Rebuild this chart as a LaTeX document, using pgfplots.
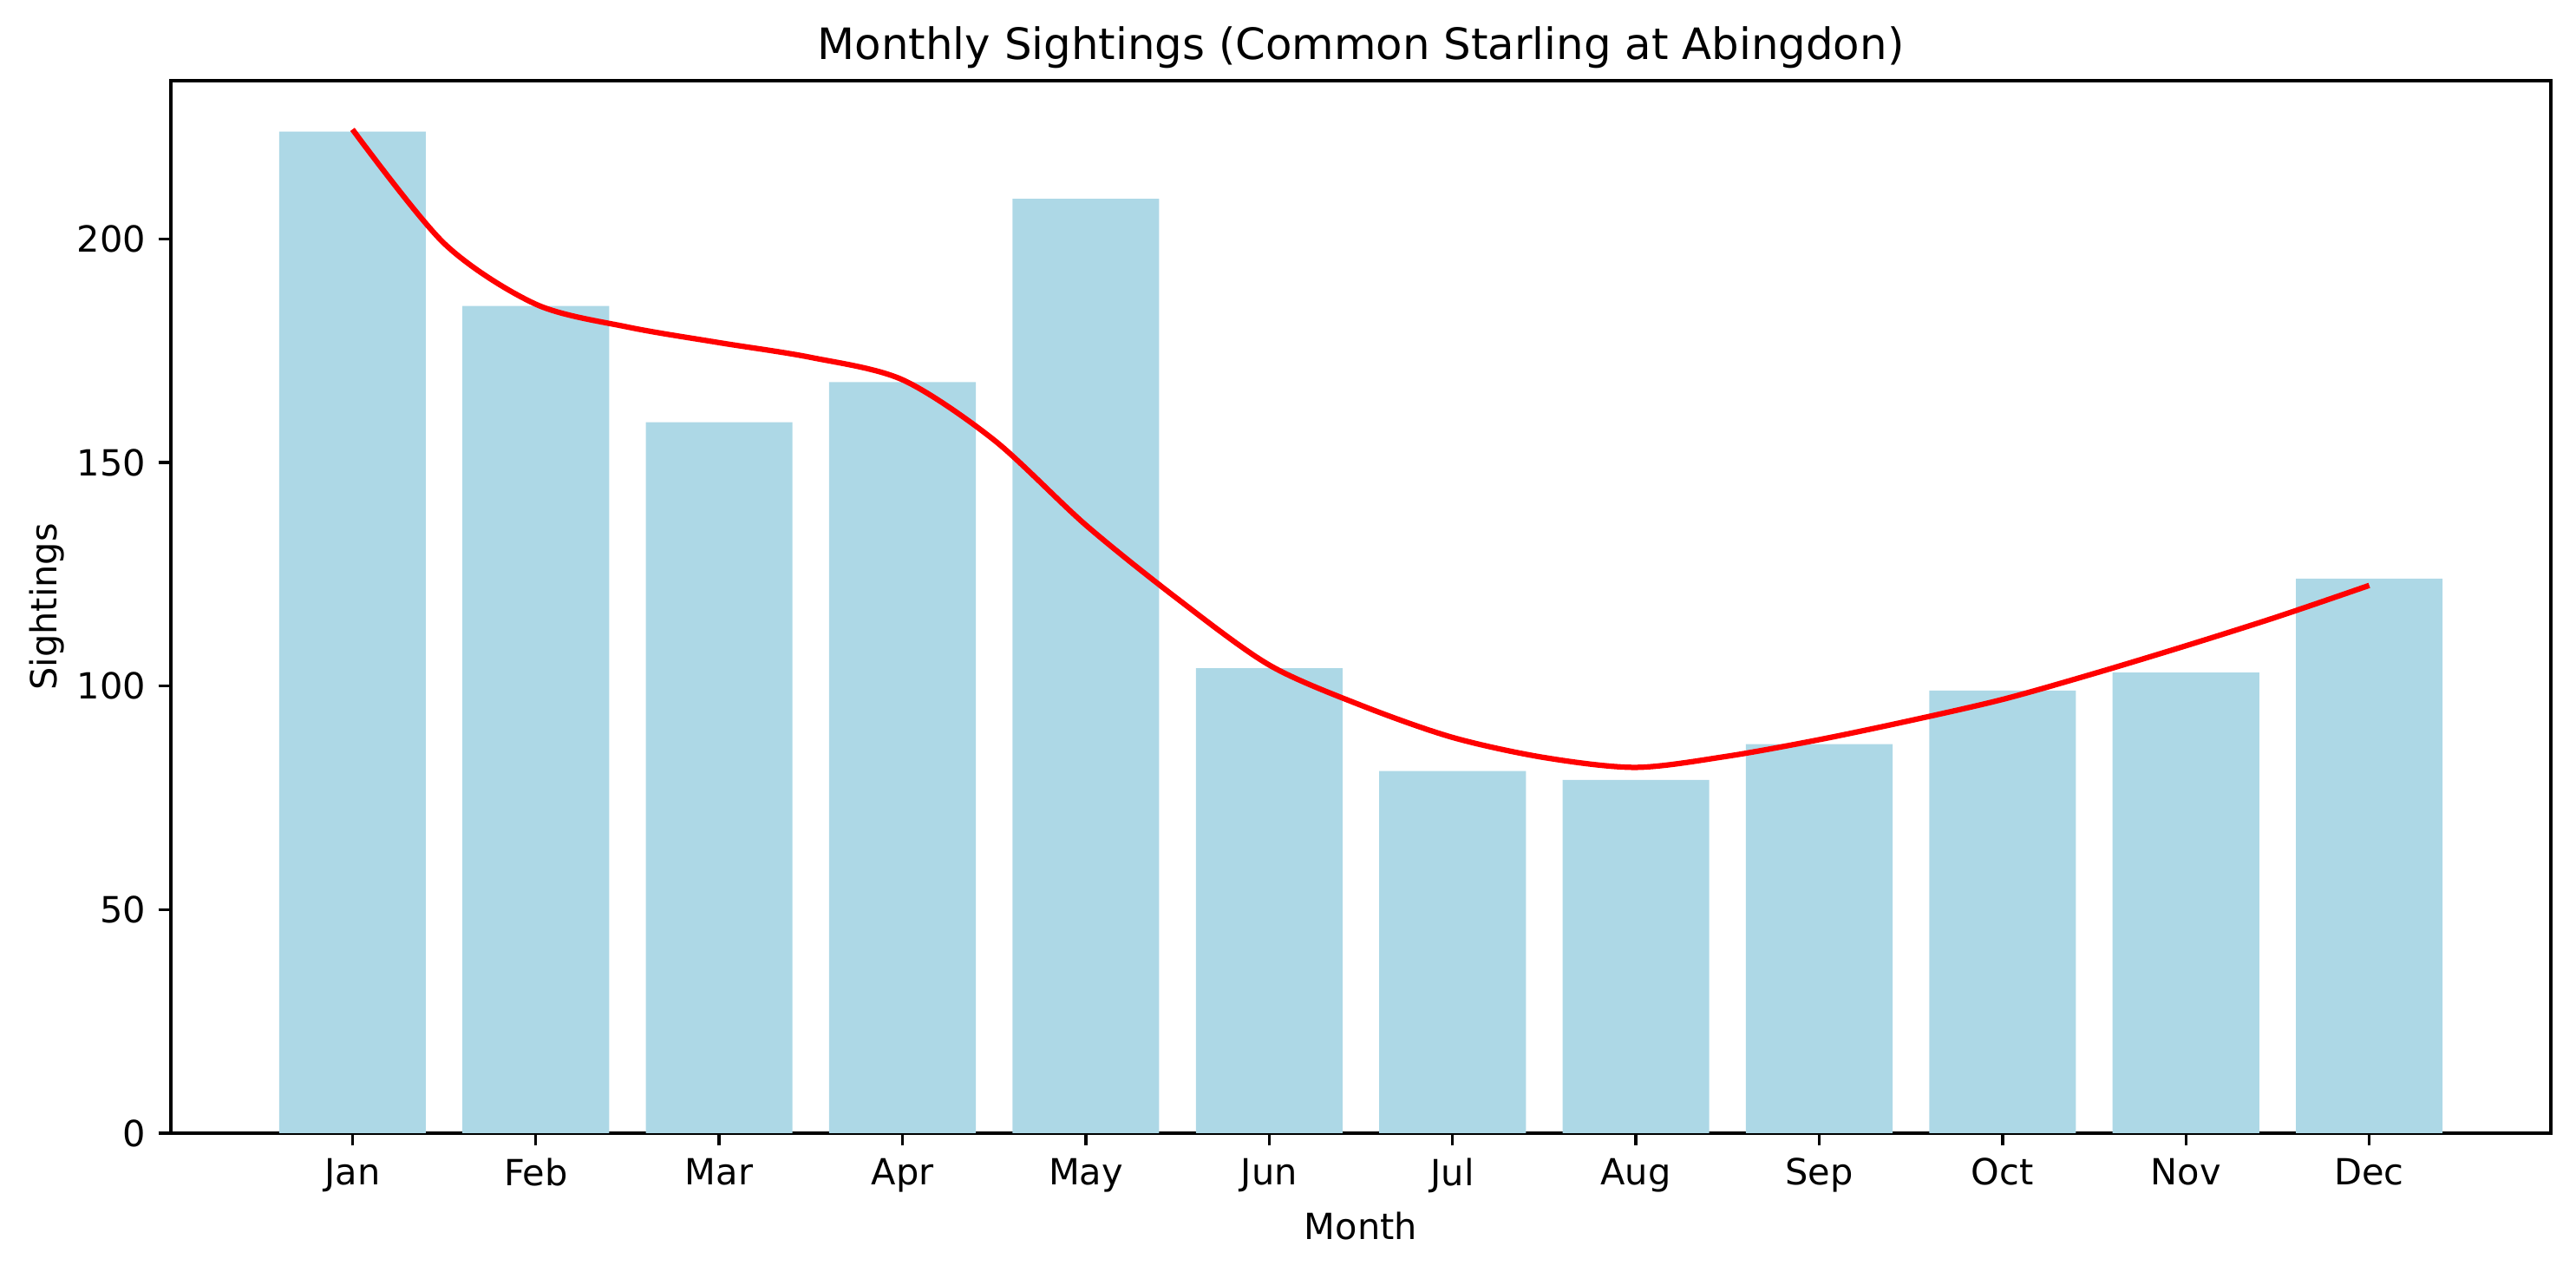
\documentclass[border=0pt]{standalone}
\usepackage{pgfplots}
\pgfplotsset{compat=1.18}
\usepackage{fontspec}
\setmainfont{DejaVu Sans}
\definecolor{lightblue}{HTML}{ADD8E6}

% monthly sightings (bars)
\pgfplotstableread{
x  y
0  224
1  185
2  159
3  168
4  209
5  104
6  81
7  79
8  87
9  99
10 103
11 124
}\sightings

% smoothed trend, every half month
\pgfplotstableread{
x     y
0     224.5
0.5   199
1     185.4
1.5   180.3
2     176.8
2.5   173.5
3     168.5
3.5   155
4     136
4.5   119.5
5     104.7
5.5   95.7
6     88.5
6.5   84
7     81.8
7.5   84.3
8     88
8.5   92.3
9     97
9.5   102.8
10    109
10.5  115.5
11    122.5
}\trend

\begin{document}
\begin{tikzpicture}
\useasboundingbox (-0.657in,-0.533in) rectangle (9.243in,4.353in);
\begin{axis}[
    at={(0,0)}, anchor=south west,
    scale only axis,
    width=9.146in, height=4.043in,
    xmin=-0.99, xmax=11.99,
    ymin=0, ymax=235.4,
    xtick={0,...,11},
    xticklabels={Jan,Feb,Mar,Apr,May,Jun,Jul,Aug,Sep,Oct,Nov,Dec},
    ytick={0,50,100,150,200},
    tick pos=left,
    tick align=outside,
    major tick length=3.5bp,
    major tick style={black, line width=0.8bp},
    axis line style={black, line width=0.8bp},
    /pgf/number format/assume math mode=true,
    tick label style={font=\fontsize{10}{12}\selectfont},
    title={Monthly Sightings (Common Starling at Abingdon)},
    xlabel={Month},
    ylabel={Sightings},
    every axis title/.style={at={(axis description cs:0.5,1.0205)}, anchor=base,
        font=\fontsize{12}{14}\selectfont},
    every axis x label/.style={at={(axis description cs:0.5,-0.1007)}, anchor=base,
        font=\fontsize{10}{12}\selectfont},
    every axis y label/.style={at={(axis description cs:-0.0478,0.5)}, anchor=base,
        rotate=90, font=\fontsize{10}{12}\selectfont},
]
\addplot[ybar, bar width=0.8, fill=lightblue, draw=none] table[x=x, y=y] {\sightings};
\addplot[red, line width=1.5bp, smooth] table[x=x, y=y] {\trend};
\end{axis}
\end{tikzpicture}
\end{document}
